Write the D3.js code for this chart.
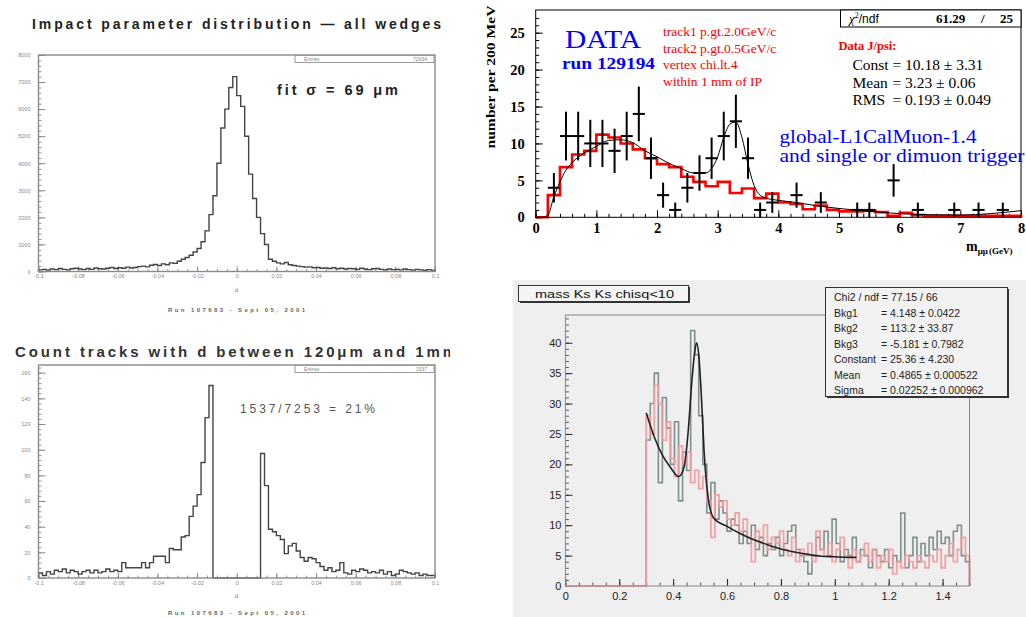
<!DOCTYPE html>
<html>
<head>
<meta charset="utf-8">
<script src="https://cdn.jsdelivr.net/npm/d3@7"></script>
<style>
body { margin: 0; background: #fff; }
svg { display: block; }
</style>
</head>
<body>
<script>
// ---------- 数据 ----------
// impact parameter 直方图 (100 bins, -0.1 .. 0.1)
const ipRange = [-0.1, 0.1];
const ipCounts = [
  60, 80, 50, 90, 70, 110, 80, 60, 100, 120,
  90, 70, 110, 80, 130, 100, 90, 120, 150, 110,
  140, 120, 160, 130, 150, 180, 200, 170, 230, 260,
  220, 280, 250, 320, 300, 380, 450, 520, 600, 720,
  850, 1100, 1500, 2100, 2800, 4000, 5300, 6000, 6800, 7200,
  6500, 6100, 5000, 3600, 2700, 2000, 1400, 1000, 450, 380,
  320, 280, 330, 250, 220, 200, 180, 160, 170, 140,
  150, 120, 130, 110, 140, 100, 120, 90, 110, 100,
  80, 120, 90, 70, 100, 110, 80, 60, 90, 70,
  80, 60, 90, 70, 50, 80, 60, 40, 70, 50
];
const cutCounts = [
  4, 2, 5, 3, 6, 5, 7, 4, 6, 5,
  3, 5, 6, 4, 6, 4, 5, 7, 5, 6,
  5, 12, 8, 8, 8, 8, 12, 8, 12, 17,
  17, 17, 12, 23, 22, 22, 32, 33, 48, 56,
  65, 90, 125, 150, 0, 0, 0, 0, 0, 0,
  0, 0, 0, 0, 0, 0, 97, 72, 38, 36,
  33, 30, 19, 25, 27, 21, 16, 13, 16, 15,
  12, 9, 6, 8, 5, 6, 12, 4, 3, 6,
  5, 7, 6, 4, 5, 4, 6, 3, 5, 2,
  3, 6, 5, 4, 3, 4, 2, 3, 2, 2
];
const ipXTicks = [-0.1, -0.08, -0.06, -0.04, -0.02, 0, 0.02, 0.04, 0.06, 0.08, 0.1];
const ipXLabels = ["-0.1", "-0.08", "-0.06", "-0.04", "-0.02", "0", "0.02", "0.04", "0.06", "0.08", "0.1"];
const ipYTicks = [0, 1000, 2000, 3000, 4000, 5000, 6000, 7000, 8000];
const cutYTicks = [0, 20, 40, 60, 80, 100, 120, 140, 160];

// J/psi 质量谱
const jpsiX = [0.3, 0.5, 0.7, 0.9, 1.1, 1.3, 1.5, 1.7, 1.9, 2.1, 2.3, 2.5, 2.7, 2.9,
  3.1, 3.3, 3.5, 3.7, 3.9, 4.3, 4.7, 5.3, 5.5, 5.9, 6.3, 6.9, 7.3, 7.7];
const jpsiY = [4, 11, 11, 10, 10, 9, 11, 14, 8, 3, 1, 4, 6, 8,
  11, 13, 8, 1, 2, 3, 2, 1, 1, 5, 1, 1, 1, 1];
const jpsiErr = [2.0, 3.3, 3.3, 3.2, 3.2, 3.0, 3.3, 3.7, 2.8, 1.7, 1.0, 2.0, 2.4, 2.8,
  3.3, 3.6, 2.8, 1.0, 1.4, 1.7, 1.4, 1.0, 1.0, 2.2, 1.0, 1.0, 1.0, 1.0];
// 红色 MC 直方图, 0.2 GeV bins 0..8
const mcCounts = [0, 3, 6.8, 8.5, 9, 11.2, 10.8, 10, 9.2, 8, 7.2, 6.8, 5.5, 4.8, 4.2,
  4.8, 3.3, 3.9, 2.6, 3.2, 2.0, 1.8, 1.1, 1.6, 1.0, 0.8, 0.8, 0.9, 0.7, 0.2,
  0.6, 0.3, 0.2, 0.2, 0.2, 0.2, 0.2, 0.2, 0.2, 0.2];
const jpsiFitX = [0, 0.1, 0.2, 0.3, 0.4, 0.5, 0.6, 0.8, 1.0, 1.2, 1.4, 1.6, 1.8, 2.0, 2.2, 2.4,
  2.6, 2.8, 2.9, 3.0, 3.1, 3.2, 3.3, 3.4, 3.5, 3.6, 3.7, 3.8, 4.0, 4.3, 4.6, 5.0,
  5.5, 6.0, 6.5, 7.0, 7.5, 8.0];
const jpsiFitY = [0, 0, 0.3, 2.8, 4.8, 6.4, 7.4, 8.7, 9.6, 10.4, 10.5, 10.1, 9.0, 8.2, 7.3, 6.6,
  6.0, 6.0, 6.6, 8.2, 10.8, 12.6, 12.9, 10.8, 7.2, 4.3, 3.0, 2.6, 2.3, 2.0, 1.6, 1.2,
  0.8, 0.5, 0.35, 0.3, 0.5, 0.9];
const jpsiXTicks = [0, 1, 2, 3, 4, 5, 6, 7, 8];
const jpsiYTicks = [0, 5, 10, 15, 20, 25];

// Ks Ks 质量谱, 0.015 bins 从 0.3 开始
const ksLo = 0.3;
const ksGray = [
  24, 30, 35, 17, 31, 26, 20, 27, 14, 22,
  19, 42, 38, 28, 20, 12, 17, 11, 14, 12,
  9, 11, 10, 7, 9, 7, 10, 6, 8, 5,
  7, 6, 8, 5, 7, 9, 10, 6, 5, 4,
  2, 5, 8, 6, 9, 5, 11, 7, 4, 6,
  5, 8, 4, 6, 5, 3, 6, 5, 4, 6,
  3, 5, 4, 12, 3, 5, 8, 4, 7, 5,
  8, 6, 9, 7, 8, 5, 9, 10, 5, 4
];
const ksPink = [
  28, 25, 33, 30, 24, 27, 21, 18, 23, 20,
  22, 17, 19, 16, 18, 14, 8, 15, 13, 14,
  11, 10, 12, 9, 11, 8, 4, 9, 7, 10,
  6, 8, 7, 9, 6, 5, 8, 4, 6, 5,
  7, 4, 9, 6, 5, 7, 4, 6, 8, 5,
  3, 6, 4, 5, 7, 4, 6, 3, 5, 4,
  6, 2, 4, 3, 5, 4, 3, 5, 4, 3,
  5, 4, 6, 3, 5, 7, 4, 6, 8, 5
];
const ksFitX = [0.3, 0.33, 0.36, 0.39, 0.42, 0.44, 0.455, 0.47, 0.48, 0.487, 0.495, 0.505,
  0.515, 0.53, 0.55, 0.6, 0.65, 0.7, 0.75, 0.8, 0.85, 0.9, 0.95, 1.0, 1.05, 1.08];
const ksFitY = [28.5, 24.5, 21.5, 19.5, 18.0, 19.5, 25, 34, 38.5, 40, 38, 31,
  22, 14.5, 11.2, 9.8, 8.6, 7.6, 6.8, 6.1, 5.6, 5.2, 4.9, 4.8, 4.7, 4.7];
const ksXTicks = [0, 0.2, 0.4, 0.6, 0.8, 1, 1.2, 1.4];
const ksXLabels = ["0", "0.2", "0.4", "0.6", "0.8", "1", "1.2", "1.4"];
const ksYTicks = [0, 5, 10, 15, 20, 25, 30, 35, 40];
const ksStatNames = ["Chi2 / ndf = 77.15 / 66", "Bkg1", "Bkg2", "Bkg3", "Constant", "Mean", "Sigma"];
const ksStatVals = ["", "= 4.148 ± 0.0422", "= 113.2 ± 33.87", "= -5.181 ± 0.7982",
  "= 25.36 ± 4.230", "= 0.4865 ± 0.000522", "= 0.02252 ± 0.000962"];

// ---------- 画布 ----------
const svg = d3.select("body").append("svg")
  .attr("width", 1026).attr("height", 617)
  .style("font-family", "'Liberation Sans', Arial, sans-serif");

svg.append("defs").append("clipPath").attr("id", "clipL")
  .append("rect").attr("x", 0).attr("y", 0).attr("width", 450).attr("height", 617);

// 直方图台阶线
function stepLine(values, lo, w, x, y) {
  const pts = [[lo, 0]];
  values.forEach((v, i) => pts.push([lo + i * w, v]));
  const hi = lo + values.length * w;
  pts.push([hi, values[values.length - 1]]);
  pts.push([hi, 0]);
  return d3.line().x(d => x(d[0])).y(d => y(d[1])).curve(d3.curveStepAfter)(pts);
}

// 轴的样式
function styleAxis(g, color, size, family, weight) {
  g.select(".domain").remove();
  g.attr("color", color).attr("font-size", size).attr("font-family", family);
  if (weight) g.attr("font-weight", weight);
  return g;
}

// ---------- 左边两个 impact parameter 图 ----------
const left = svg.append("g").attr("clip-path", "url(#clipL)");

function drawImpact(c) {
  const g = left.append("g");
  const x = d3.scaleLinear().domain(ipRange).range([38.5, 435]);
  const y = d3.scaleLinear().domain([0, c.yMax]).range([c.bottom, c.top]);

  g.append("text").attr("x", c.titleX).attr("y", c.titleY)
    .attr("font-size", c.titleSize).attr("font-weight", "bold")
    .attr("textLength", c.titleLen).attr("lengthAdjust", "spacing")
    .attr("fill", c.titleColor).text(c.title);

  // 小刻度
  styleAxis(g.append("g").attr("transform", `translate(${x(-0.1)},0)`)
    .call(d3.axisLeft(y).tickValues(d3.range(0, c.yMax, c.minor)).tickSize(-3).tickFormat("")), "#999", 5);
  styleAxis(g.append("g").attr("transform", `translate(${x(-0.1)},0)`)
    .call(d3.axisLeft(y).tickValues(c.yTicks).tickSizeInner(-7).tickSizeOuter(0).tickPadding(8)
      .tickFormat(d3.format("d"))), "#888", 5.5);
  styleAxis(g.append("g").attr("transform", `translate(0,${c.bottom})`)
    .call(d3.axisBottom(x).tickValues(d3.range(-0.1, 0.1001, 0.005)).tickSize(-2.5).tickFormat("")), "#999", 5);
  styleAxis(g.append("g").attr("transform", `translate(0,${c.bottom})`)
    .call(d3.axisBottom(x).tickValues(ipXTicks).tickSizeInner(-5).tickSizeOuter(0).tickPadding(3)
      .tickFormat((d, i) => ipXLabels[i])), "#888", 5.5);

  g.append("path").attr("d", stepLine(c.counts, ipRange[0], 0.002, x, y))
    .attr("fill", "none").attr("stroke", "#444").attr("stroke-width", 1.4);

  g.append("rect").attr("x", 38.5).attr("y", c.top).attr("width", 435 - 38.5)
    .attr("height", c.bottom - c.top).attr("fill", "none")
    .attr("stroke", "#8a8a8a").attr("stroke-width", 1.4);

  // 统计框
  g.append("rect").attr("x", 295).attr("y", c.top + 0.5).attr("width", 139).attr("height", 7)
    .attr("fill", "#fff").attr("stroke", "#999").attr("stroke-width", 1);
  g.append("text").attr("x", 304).attr("y", c.top + 6).attr("font-size", 5).attr("fill", "#888").text("Entries");
  g.append("text").attr("x", 427).attr("y", c.top + 6).attr("font-size", 5).attr("fill", "#888")
    .attr("text-anchor", "end").text(c.entries);

  g.append("text").attr("x", c.noteX).attr("y", c.noteY).attr("font-size", c.noteSize)
    .attr("font-weight", c.noteWeight).attr("fill", c.noteColor)
    .attr("textLength", c.noteLen).attr("lengthAdjust", "spacing").text(c.note);

  g.append("text").attr("x", 236.5).attr("y", c.bottom + 20).attr("text-anchor", "middle")
    .attr("font-size", 6).attr("fill", "#777").text("d");
  g.append("text").attr("x", 236.5).attr("y", c.subY).attr("text-anchor", "middle")
    .attr("font-size", 6).attr("font-weight", "bold").attr("fill", "#666")
    .attr("textLength", 137).attr("lengthAdjust", "spacing").text("Run 107683 - Sept 05, 2001");
}

drawImpact({
  title: "Impact parameter distribution — all wedges", titleX: 32, titleY: 29, titleSize: 14,
  titleColor: "#222", titleLen: 409,
  top: 55, bottom: 271.5, yMax: 8000, yTicks: ipYTicks, minor: 200, counts: ipCounts, entries: "72634",
  note: "fit σ = 69 μm", noteX: 277, noteY: 95, noteSize: 14.5, noteWeight: "bold", noteColor: "#222", noteLen: 121,
  subY: 312
});
drawImpact({
  title: "Count tracks with d between 120μm and 1mm", titleX: 15, titleY: 357, titleSize: 15,
  titleColor: "#333", titleLen: 441,
  top: 365, bottom: 578, yMax: 166, yTicks: cutYTicks, minor: 4, counts: cutCounts, entries: "1537",
  note: "1537/7253 = 21%", noteX: 240, noteY: 413, noteSize: 12, noteWeight: "normal", noteColor: "#555", noteLen: 135,
  subY: 615
});

// ---------- 右上 J/psi 图 ----------
const gB = svg.append("g");
const xB = d3.scaleLinear().domain([0, 8]).range([535.7, 1021]);
const yB = d3.scaleLinear().domain([0, 28.07]).range([217.3, 10]);
const serif = "'Liberation Serif', 'Times New Roman', serif";

styleAxis(gB.append("g").attr("transform", `translate(${xB(0)},0)`)
  .call(d3.axisLeft(yB).tickValues(d3.range(0, 28, 1)).tickSize(-3.5).tickFormat("")), "#000", 12);
styleAxis(gB.append("g").attr("transform", `translate(${xB(0)},0)`)
  .call(d3.axisLeft(yB).tickValues(jpsiYTicks).tickSizeInner(-7).tickSizeOuter(0).tickPadding(11)),
  "#000", 14.5, serif, "bold");
styleAxis(gB.append("g").attr("transform", `translate(0,${yB(0)})`)
  .call(d3.axisBottom(xB).tickValues(d3.range(0, 8.01, 0.2)).tickSize(-3.5).tickFormat("")), "#000", 12);
styleAxis(gB.append("g").attr("transform", `translate(0,${yB(0)})`)
  .call(d3.axisBottom(xB).tickValues(jpsiXTicks).tickSizeInner(-7).tickSizeOuter(0).tickPadding(5)),
  "#000", 14.5, serif, "bold");

gB.append("path").attr("d", stepLine(mcCounts, 0, 0.2, xB, yB))
  .attr("fill", "none").attr("stroke", "#ff0000").attr("stroke-width", 2.6);

gB.append("path")
  .attr("d", d3.line().x((d, i) => xB(jpsiFitX[i])).y(d => yB(d)).curve(d3.curveMonotoneX)(jpsiFitY))
  .attr("fill", "none").attr("stroke", "#000").attr("stroke-width", 1);

const pts = gB.append("g").attr("stroke", "#000").attr("stroke-width", 2);
jpsiX.forEach((xv, i) => {
  pts.append("line").attr("x1", xB(xv)).attr("x2", xB(xv))
    .attr("y1", yB(jpsiY[i] - jpsiErr[i])).attr("y2", yB(Math.min(jpsiY[i] + jpsiErr[i], 28)));
  pts.append("line").attr("x1", xB(xv - 0.1)).attr("x2", xB(xv + 0.1))
    .attr("y1", yB(jpsiY[i])).attr("y2", yB(jpsiY[i]));
});

gB.append("rect").attr("x", xB(0)).attr("y", yB(28.07)).attr("width", xB(8) - xB(0))
  .attr("height", yB(0) - yB(28.07)).attr("fill", "none").attr("stroke", "#000").attr("stroke-width", 1);

// chi2 框
gB.append("rect").attr("x", 840.5).attr("y", 10).attr("width", 1021 - 840.5).attr("height", 17)
  .attr("fill", "#fff").attr("stroke", "#000").attr("stroke-width", 1);
const chi = gB.append("text").attr("y", 23).attr("font-size", 13).attr("font-family", serif);
chi.append("tspan").attr("x", 849).attr("font-style", "italic").text("χ");
chi.append("tspan").attr("font-size", 8).attr("dy", -5).text("2");
chi.append("tspan").attr("dy", 5).attr("font-family", "'Liberation Sans', sans-serif").attr("font-size", 12).text("/ndf");
gB.append("text").attr("x", 936).attr("y", 23).attr("font-size", 13).attr("font-weight", "bold")
  .attr("font-family", serif).text("61.29");
gB.append("text").attr("x", 981).attr("y", 23).attr("font-size", 13).attr("font-weight", "bold")
  .attr("font-family", serif).text("/");
gB.append("text").attr("x", 1000).attr("y", 23).attr("font-size", 13).attr("font-weight", "bold")
  .attr("font-family", serif).text("25");

// 文本
gB.append("text").attr("x", 565).attr("y", 48).attr("font-size", 25.5).attr("font-family", serif)
  .attr("fill", "#0000ff").attr("textLength", 76).attr("lengthAdjust", "spacingAndGlyphs").text("DATA");
gB.append("text").attr("x", 562).attr("y", 68.5).attr("font-size", 17.5).attr("font-weight", "bold")
  .attr("font-family", serif).attr("fill", "#0000ff")
  .attr("textLength", 93).attr("lengthAdjust", "spacingAndGlyphs").text("run 129194");
["track1 p.gt.2.0GeV/c", "track2 p.gt.0.5GeV/c", "vertex chi.lt.4", "within 1 mm of IP"].forEach((t, i) => {
  gB.append("text").attr("x", 663).attr("y", 36 + i * 16.5).attr("font-size", 13.5)
    .attr("font-family", serif).attr("fill", "#ff0000").text(t);
});
gB.append("text").attr("x", 838.5).attr("y", 50).attr("font-size", 12.5).attr("font-weight", "bold")
  .attr("font-family", serif).attr("fill", "#ff0000").text("Data J/psi:");
[["Const", "= 10.18 ± 3.31"], ["Mean", "= 3.23 ± 0.06"], ["RMS", "= 0.193 ± 0.049"]].forEach((r, i) => {
  gB.append("text").attr("x", 852.5).attr("y", 70 + i * 17.5).attr("font-size", 15.5)
    .attr("font-family", serif).attr("fill", "#000").text(r[0]);
  gB.append("text").attr("x", 892.5).attr("y", 70 + i * 17.5).attr("font-size", 15.5)
    .attr("font-family", serif).attr("fill", "#000").text(r[1]);
});
gB.append("text").attr("x", 779.5).attr("y", 143).attr("font-size", 18.5)
  .attr("font-family", serif).attr("fill", "#0000ff")
  .attr("textLength", 197).attr("lengthAdjust", "spacingAndGlyphs").text("global-L1CalMuon-1.4");
gB.append("text").attr("x", 779.5).attr("y", 162).attr("font-size", 18.5)
  .attr("font-family", serif).attr("fill", "#0000ff")
  .attr("textLength", 245).attr("lengthAdjust", "spacingAndGlyphs").text("and single or dimuon trigger");

// 轴标题
gB.append("text").attr("transform", "translate(495,77) rotate(-90)").attr("text-anchor", "middle")
  .attr("font-size", 13).attr("font-weight", "bold").attr("font-family", serif)
  .attr("textLength", 143).attr("lengthAdjust", "spacingAndGlyphs").text("number per 200 MeV");
const mx = gB.append("text").attr("x", 966).attr("y", 251).attr("font-family", serif).attr("font-weight", "bold");
mx.append("tspan").attr("font-size", 14).text("m");
mx.append("tspan").attr("font-size", 9).attr("dy", 3).text("μμ");
mx.append("tspan").attr("font-size", 9).attr("dx", 1).text("(GeV)");

// ---------- 右下 Ks Ks 图 ----------
const gD = svg.append("g");
gD.append("rect").attr("x", 513).attr("y", 280).attr("width", 1026 - 513).attr("height", 617 - 280)
  .attr("fill", "#efefef");
const xD = d3.scaleLinear().domain([0, 1.5]).range([565.4, 969.5]);
const yD = d3.scaleLinear().domain([0, 44.56]).range([586, 315]);

styleAxis(gD.append("g").attr("transform", `translate(${xD(0)},0)`)
  .call(d3.axisLeft(yD).tickValues(d3.range(0, 44.5, 1)).tickSize(-3.5).tickFormat("")), "#555", 10);
styleAxis(gD.append("g").attr("transform", `translate(${xD(0)},0)`)
  .call(d3.axisLeft(yD).tickValues(ksYTicks).tickSizeInner(-7).tickSizeOuter(0).tickPadding(4)),
  "#222", 11);
styleAxis(gD.append("g").attr("transform", `translate(0,${yD(0)})`)
  .call(d3.axisBottom(xD).tickValues(d3.range(0, 1.501, 0.05)).tickSize(-3.5).tickFormat("")), "#555", 10);
styleAxis(gD.append("g").attr("transform", `translate(0,${yD(0)})`)
  .call(d3.axisBottom(xD).tickValues(ksXTicks).tickSizeInner(-7).tickSizeOuter(0).tickPadding(6)
    .tickFormat((d, i) => ksXLabels[i])), "#222", 11);

gD.append("path").attr("d", stepLine(ksGray, ksLo, 0.015, xD, yD))
  .attr("fill", "none").attr("stroke", "#7f8f8c").attr("stroke-width", 1.6);
gD.append("path").attr("d", "M" + xD(0) + "," + yD(0) + "L" + xD(ksLo) + "," + yD(0) +
    stepLine(ksPink, ksLo, 0.015, xD, yD).replace(/^M/, "L"))
  .attr("fill", "none").attr("stroke", "#f29a9e").attr("stroke-width", 1.8).attr("opacity", 0.9);
gD.append("path")
  .attr("d", d3.line().x((d, i) => xD(ksFitX[i])).y(d => yD(d)).curve(d3.curveMonotoneX)(ksFitY))
  .attr("fill", "none").attr("stroke", "#222").attr("stroke-width", 1.6);

gD.append("rect").attr("x", xD(0)).attr("y", yD(44.56)).attr("width", xD(1.5) - xD(0))
  .attr("height", yD(0) - yD(44.56)).attr("fill", "none").attr("stroke", "#888").attr("stroke-width", 1);

// 标题框
gD.append("rect").attr("x", 520).attr("y", 287).attr("width", 170).attr("height", 16).attr("fill", "#333");
gD.append("rect").attr("x", 518.5).attr("y", 285.5).attr("width", 170).attr("height", 16)
  .attr("fill", "#f4f4f4").attr("stroke", "#333").attr("stroke-width", 1);
gD.append("text").attr("x", 535).attr("y", 297.5).attr("font-size", 11).attr("fill", "#111")
  .attr("textLength", 139).attr("lengthAdjust", "spacingAndGlyphs").text("mass Ks Ks chisq<10");

// 统计框
gD.append("rect").attr("x", 827).attr("y", 289).attr("width", 182).attr("height", 109).attr("fill", "#333");
gD.append("rect").attr("x", 825.5).attr("y", 287.5).attr("width", 182).attr("height", 109)
  .attr("fill", "#f2f2f2").attr("stroke", "#333").attr("stroke-width", 1);
ksStatNames.forEach((n, i) => {
  const yy = 301 + i * 15.5;
  gD.append("text").attr("x", 834).attr("y", yy).attr("font-size", 10.5).attr("fill", "#222").text(n);
  gD.append("text").attr("x", 881).attr("y", yy).attr("font-size", 10.5).attr("fill", "#222").text(ksStatVals[i]);
});
</script>
</body>
</html>
